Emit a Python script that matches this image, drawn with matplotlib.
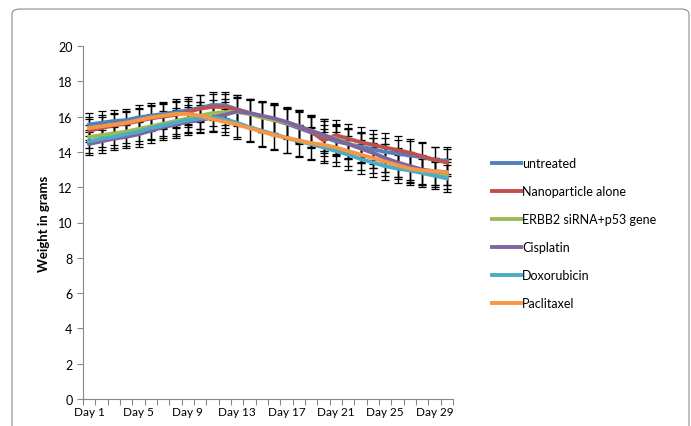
import matplotlib.pyplot as plt
from matplotlib.patches import FancyBboxPatch
from matplotlib.ticker import MultipleLocator

days = ["Day %d" % d for d in range(1, 31)]

untreated = [15.55, 15.65, 15.75, 15.8, 15.95, 16.05, 16.15, 16.25, 16.35, 16.5,
             16.65, 16.65, 16.4, 16.2, 16.0, 15.8, 15.6, 15.35, 15.1, 14.85,
             14.6, 14.45, 14.3, 14.15, 14.0, 13.9, 13.8, 13.7, 13.55, 13.5]
nanoparticle = [15.2, 15.35, 15.5, 15.6, 15.75, 15.9, 16.0, 16.1, 16.25, 16.45,
                16.55, 16.55, 16.4, 16.2, 16.0, 15.85, 15.65, 15.4, 15.15, 14.65,
                14.95, 14.75, 14.55, 14.4, 14.25, 14.1, 13.95, 13.75, 13.55, 13.4]
erbb2 = [14.85, 14.95, 15.05, 15.15, 15.3, 15.45, 15.6, 15.75, 15.9, 16.05,
         16.2, 16.25, 16.25, 16.15, 15.95, 15.8, 15.65, 15.45, 15.2, 14.95,
         14.75, 14.5, 14.2, 13.95, 13.65, 13.35, 13.1, 12.9, 12.75, 12.65]
cisplatin = [14.45, 14.6, 14.75, 14.85, 15.0, 15.2, 15.4, 15.55, 15.7, 15.8,
             15.95, 16.1, 16.3, 16.2, 16.05, 15.9, 15.7, 15.45, 15.2, 14.95,
             14.7, 14.45, 14.2, 13.95, 13.65, 13.4, 13.2, 13.0, 12.9, 12.85]
doxorubicin = [14.6, 14.75, 14.85, 15.0, 15.15, 15.35, 15.5, 15.65, 15.8, 15.9,
               15.95, 15.85, 15.65, 15.4, 15.2, 15.0, 14.8, 14.6, 14.45, 14.25,
               14.05, 13.85, 13.6, 13.4, 13.2, 13.05, 12.95, 12.8, 12.65, 12.5]
paclitaxel = [15.35, 15.45, 15.55, 15.65, 15.8, 15.95, 16.05, 16.15, 16.15, 16.05,
              15.85, 15.7, 15.55, 15.35, 15.15, 14.95, 14.8, 14.65, 14.5, 14.4,
              14.25, 14.05, 13.85, 13.65, 13.45, 13.25, 13.05, 12.95, 12.9, 12.85]

# standard deviation per day (shared by the groups)
err = [0.65, 0.65, 0.65, 0.65, 0.7, 0.7, 0.7, 0.75, 0.75, 0.75,
       0.75, 0.75, 0.8, 0.8, 0.85, 0.85, 0.85, 0.9, 0.9, 0.9,
       0.85, 0.85, 0.85, 0.85, 0.8, 0.8, 0.8, 0.8, 0.75, 0.75]

series = [("untreated", untreated, "#4F81BD"),
          ("Nanoparticle alone", nanoparticle, "#C0504D"),
          ("ERBB2 siRNA+p53 gene", erbb2, "#9BBB59"),
          ("Cisplatin", cisplatin, "#8064A2"),
          ("Doxorubicin", doxorubicin, "#4BACC6"),
          ("Paclitaxel", paclitaxel, "#F79646")]

plt.rcParams['font.family'] = ['Lato', 'DejaVu Sans']

fig = plt.figure(figsize=(6.91, 4.27), dpi=100)
fig.patches.append(FancyBboxPatch((12 / 691, -0.05), 677 / 691, 1.0 - 10 / 427 + 0.05,
                                  boxstyle="round,pad=0,rounding_size=0.012",
                                  transform=fig.transFigure, facecolor="none",
                                  edgecolor="#8c8c8c", linewidth=0.8))
ax = fig.add_axes([83 / 691, 27 / 427, 370 / 691, 353 / 427])

x = list(range(len(days)))
for name, vals, col in series:
    ax.errorbar(x, vals, yerr=err, fmt="none", ecolor="black", elinewidth=0.9,
                capsize=3, capthick=0.9, zorder=2)
for name, vals, col in series:
    ax.plot(x, vals, color=col, linewidth=2.8, label=name, zorder=3)

ax.set_xlim(-0.5, len(days) - 0.5)
ax.set_ylim(0, 20)
ax.yaxis.set_major_locator(MultipleLocator(2))
ax.set_xticks(x[::4])
ax.set_xticklabels(days[::4], fontsize=8.5)
ax.set_xticks([i - 0.5 for i in range(len(days) + 1)], minor=True)
ax.tick_params(axis="x", which="major", length=0, pad=5)
ax.tick_params(axis="x", which="minor", length=4, color="#888888", width=0.8)
ax.tick_params(axis="y", length=4, color="#888888", width=0.8, labelsize=9)
for s in ["top", "right"]:
    ax.spines[s].set_visible(False)
for s in ["left", "bottom"]:
    ax.spines[s].set_color("#888888")
    ax.spines[s].set_linewidth(0.8)
ax.set_ylabel("Weight in grams", fontsize=9.5, fontweight="bold", labelpad=6)

fig.legend(loc="upper left", bbox_to_anchor=(487 / 691, 1 - 153 / 427), frameon=False,
           fontsize=9, handlelength=2.3, handletextpad=0.1, labelspacing=1.28,
           borderaxespad=0)

fig.savefig("out.png", dpi=100)
